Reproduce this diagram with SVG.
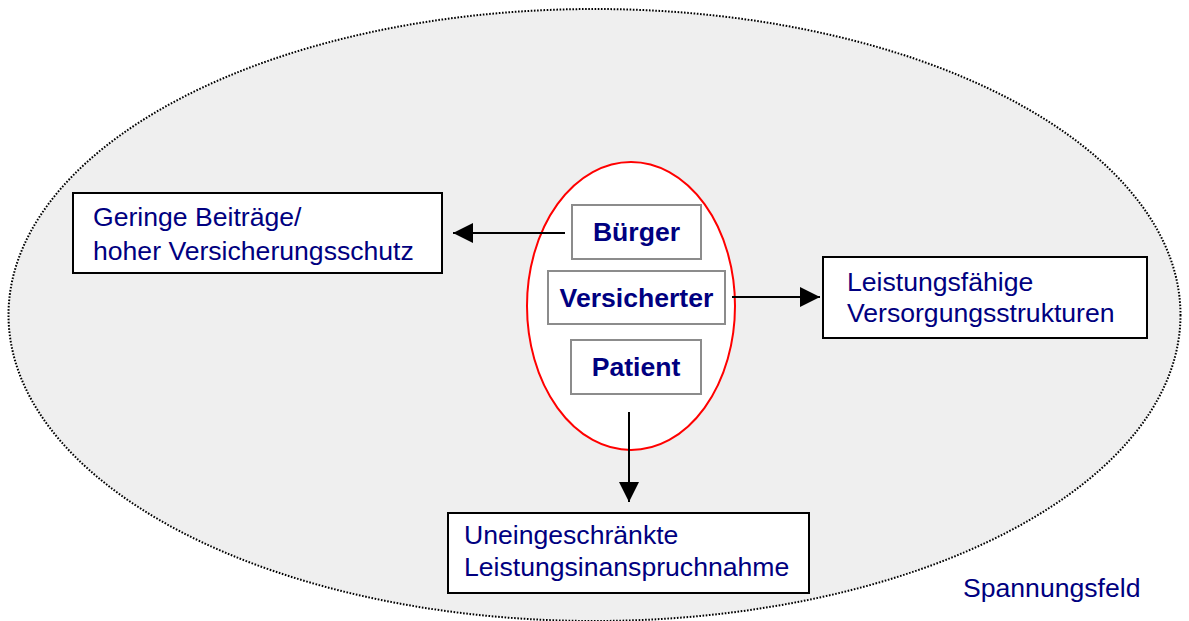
<svg xmlns="http://www.w3.org/2000/svg" width="1189" height="621" viewBox="0 0 1189 621">
  <style>
    .txt { font-family: "Liberation Sans", Arial, sans-serif; font-size: 26.6px; fill: #000080; }
    .bold { font-weight: bold; }
    .outer { fill: #ffffff; stroke: #000000; stroke-width: 2; }
    .role { fill: #ffffff; stroke: #8c8c8c; stroke-width: 2; }
    .conn { stroke: #000000; stroke-width: 2; fill: none; marker-end: url(#arrow); }
  </style>
  <defs>
    <marker id="arrow" viewBox="0 0 20 20" refX="20" refY="10" markerWidth="20" markerHeight="20" markerUnits="userSpaceOnUse" orient="auto">
      <path d="M0,0 L20,10 L0,20 Z" fill="#000000"/>
    </marker>
  </defs>

  <rect width="1189" height="621" fill="#ffffff"/>

  <!-- field of tension -->
  <g id="spannungsfeld">
    <ellipse cx="594.5" cy="315" rx="586" ry="306" fill="#efefef" stroke="#000000" stroke-width="2" stroke-dasharray="1.6 1.6"/>
    <text class="txt" x="963" y="597">Spannungsfeld</text>
  </g>

  <!-- central person with three roles -->
  <g id="person">
    <ellipse cx="631" cy="306" rx="104" ry="144" fill="#ffffff" stroke="#ff0000" stroke-width="2"/>
  </g>
  <g id="buerger">
    <rect class="role" x="572" y="205" width="129" height="54"/>
    <text class="txt bold" x="636.5" y="241" text-anchor="middle">Bürger</text>
  </g>
  <g id="versicherter">
    <rect class="role" x="548" y="271" width="177" height="53"/>
    <text class="txt bold" x="636.5" y="307" text-anchor="middle">Versicherter</text>
  </g>
  <g id="patient">
    <rect class="role" x="571" y="340" width="130" height="54"/>
    <text class="txt bold" x="636" y="376" text-anchor="middle">Patient</text>
  </g>

  <!-- goals -->
  <g id="beitraege">
    <rect class="outer" x="73" y="193" width="369" height="80"/>
    <text class="txt" x="93" y="226">Geringe Beiträge/</text>
    <text class="txt" x="93" y="260">hoher Versicherungsschutz</text>
  </g>
  <g id="versorgung">
    <rect class="outer" x="823" y="257" width="324" height="81"/>
    <text class="txt" x="847" y="291">Leistungsfähige</text>
    <text class="txt" x="847" y="322">Versorgungsstrukturen</text>
  </g>
  <g id="inanspruchnahme">
    <rect class="outer" x="448" y="513" width="361" height="80"/>
    <text class="txt" x="464" y="544">Uneingeschränkte</text>
    <text class="txt" x="464" y="576">Leistungsinanspruchnahme</text>
  </g>

  <!-- connectors -->
  <g id="connectors">
    <line class="conn" x1="565" y1="233" x2="453" y2="233"/>
    <line class="conn" x1="732" y1="297" x2="820" y2="297"/>
    <line class="conn" x1="629" y1="412" x2="629" y2="502"/>
  </g>
</svg>
